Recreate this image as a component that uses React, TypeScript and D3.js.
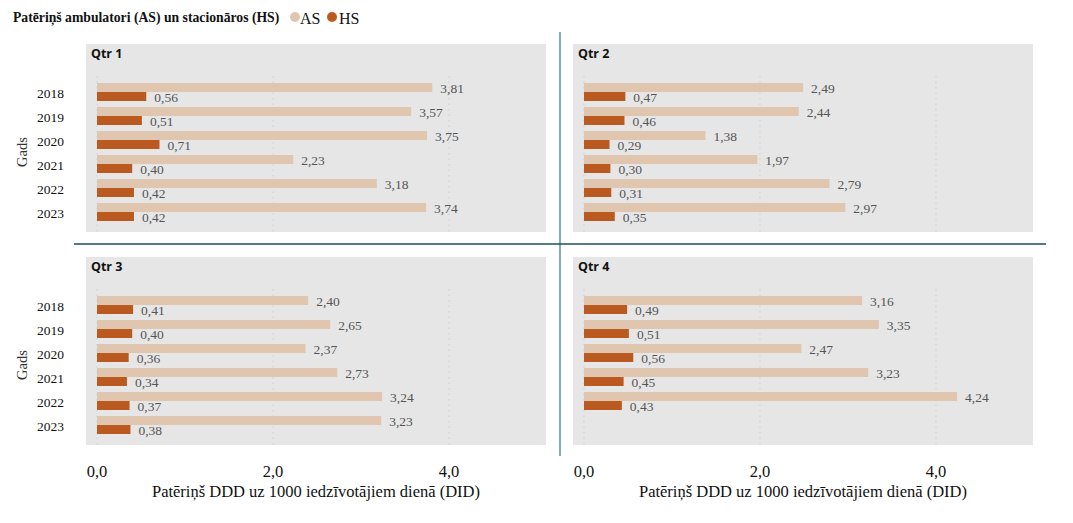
import React from "react";
import * as d3 from "d3";

const years = ["2018", "2019", "2020", "2021", "2022", "2023"];
const quarters = ["Qtr 1", "Qtr 2", "Qtr 3", "Qtr 4"];
const asValues: (number | null)[][] = [
  [3.81, 3.57, 3.75, 2.23, 3.18, 3.74],
  [2.49, 2.44, 1.38, 1.97, 2.79, 2.97],
  [2.40, 2.65, 2.37, 2.73, 3.24, 3.23],
  [3.16, 3.35, 2.47, 3.23, 4.24, null],
];
const hsValues: (number | null)[][] = [
  [0.56, 0.51, 0.71, 0.40, 0.42, 0.42],
  [0.47, 0.46, 0.29, 0.30, 0.31, 0.35],
  [0.41, 0.40, 0.36, 0.34, 0.37, 0.38],
  [0.49, 0.51, 0.56, 0.45, 0.43, null],
];
const xTicks = [0, 2, 4];
const legendTitle = "Patēriņš ambulatori (AS) un stacionāros (HS)";
const seriesNames = ["AS", "HS"];
const yTitle = "Gads";
const xTitle = "Patēriņš DDD uz 1000 iedzīvotājiem dienā (DID)";

const AS_COLOR = "#e0c6ae";
const HS_COLOR = "#ba5a20";
const SERIF = "'Liberation Serif', 'Times New Roman', serif";
const fmt = (v: number) => d3.format(".2f")(v).replace(".", ",");
const fmtTick = (v: number) => d3.format(".1f")(v).replace(".", ",");

const panelW = 460;
const panelH = 188;
const panelPos = [
  { x: 86, y: 44 },
  { x: 573, y: 44 },
  { x: 86, y: 257 },
  { x: 573, y: 257 },
];

function Panel({ qi }: { qi: number }) {
  const { x: px, y: py } = panelPos[qi];
  const x0 = px + 11;
  const x = d3.scaleLinear().domain([0, 5.1]).range([x0, x0 + 5.1 * 88]);
  const y = d3
    .scaleBand<string>()
    .domain(years)
    .range([py + 36, py + 180])
    .paddingInner(0.25)
    .paddingOuter(0.125);
  const bh = y.bandwidth() / 2;
  const showYears = qi % 2 === 0;
  return (
    <g>
      <rect x={px} y={py} width={panelW} height={panelH} fill="#e6e6e6" />
      <text x={px + 5} y={py + 14} fontFamily="'Open Sans', sans-serif" fontWeight="bold" fontSize={12.5} fill="#111">
        {quarters[qi]}
      </text>
      {xTicks.map((t) => (
        <line key={t} x1={x(t)} x2={x(t)} y1={py + 32} y2={py + panelH} stroke="#cfcfcf" strokeDasharray="1.5,4" strokeWidth={1} />
      ))}
      {years.map((yr, i) => {
        const yy = y(yr)!;
        const a = asValues[qi][i];
        const h = hsValues[qi][i];
        return (
          <g key={yr}>
            {showYears && (
              <text x={px - 22} y={yy + bh + 1} dy="0.35em" textAnchor="end" fontFamily={SERIF} fontSize={13.5} fill="#111">
                {yr}
              </text>
            )}
            {a != null && (
              <>
                <rect x={x(0)} y={yy} width={x(a) - x(0)} height={bh} fill={AS_COLOR} />
                <text x={x(a) + 8} y={yy + bh / 2 + 1} dy="0.35em" fontFamily={SERIF} fontSize={13.5} fill="#555">
                  {fmt(a)}
                </text>
              </>
            )}
            {h != null && (
              <>
                <rect x={x(0)} y={yy + bh} width={x(h) - x(0)} height={bh} fill={HS_COLOR} />
                <text x={x(h) + 8} y={yy + bh * 1.5 + 1} dy="0.35em" fontFamily={SERIF} fontSize={13.5} fill="#555">
                  {fmt(h)}
                </text>
              </>
            )}
          </g>
        );
      })}
      {qi >= 2 &&
        xTicks.map((t) => (
          <text key={"t" + t} x={x(t)} y={471} dy="0.35em" textAnchor="middle" fontFamily={SERIF} fontSize={16.5} fill="#111">
            {fmtTick(t)}
          </text>
        ))}
      {qi >= 2 && (
        <text x={px + 230} y={491} dy="0.35em" textAnchor="middle" fontFamily={SERIF} fontSize={16.5} fill="#111">
          {xTitle}
        </text>
      )}
      {showYears && (
        <text transform={`translate(22,${py + 108}) rotate(-90)`} textAnchor="middle" dy="0.35em" fontFamily={SERIF} fontSize={14.5} fill="#333">
          {yTitle}
        </text>
      )}
    </g>
  );
}

export default function App() {
  return (
    <svg width={1073} height={523} style={{ position: "absolute", left: 0, top: 0, background: "#fff" }}>
      <text x={13} y={17} dy="0.35em" fontFamily={SERIF} fontWeight="bold" fontSize={13.7} fill="#111">
        {legendTitle}
      </text>
      <circle cx={295} cy={17} r={5} fill={AS_COLOR} />
      <text x={300} y={18} dy="0.35em" fontFamily={SERIF} fontSize={16} fill="#111">{seriesNames[0]}</text>
      <circle cx={332} cy={17} r={5} fill={HS_COLOR} />
      <text x={339} y={18} dy="0.35em" fontFamily={SERIF} fontSize={16} fill="#111">{seriesNames[1]}</text>
      {quarters.map((_, qi) => (
        <Panel key={qi} qi={qi} />
      ))}
      <line x1={560} x2={560} y1={32} y2={456} stroke="#5f8f96" strokeWidth={1.5} />
      <line x1={74} x2={1046} y1={244} y2={244} stroke="#1f4f5a" strokeWidth={1.5} />
    </svg>
  );
}
